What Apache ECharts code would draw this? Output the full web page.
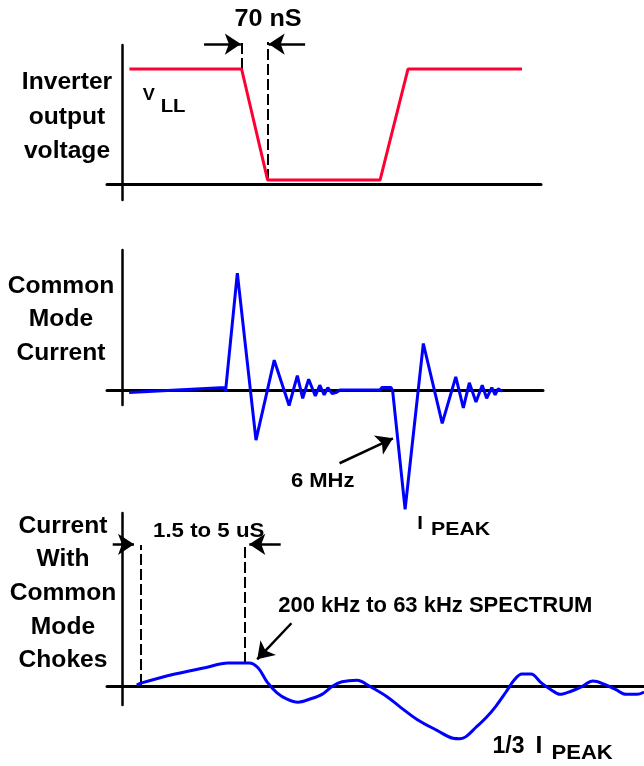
<!DOCTYPE html>
<html>
<head>
<meta charset="utf-8">
<script src="https://cdn.jsdelivr.net/npm/echarts@6/dist/echarts.min.js"></script>
<style>
  html, body { margin: 0; padding: 0; background: #ffffff; }
  #chart { width: 644px; height: 766px; }
</style>
</head>
<body>
<div id="chart"></div>
<script>
// ---- Inverter output voltage: time in ns, level as a fraction of V_LL ----
const voltageTime  = [20, 322, 392, 695, 770, 1077];
const voltageLevel = [1, 1, 0.04, 0.04, 1, 1];
const edgeGuideTime = [322, 392];           // the 70 nS switching edge

// ---- Common mode current: time in ns, current as a fraction of I_PEAK ----
const cmTime = [32, 464, 466, 519, 603, 685, 752, 789, 813, 840, 870, 890, 910, 926, 946, 966, 981,
                1161, 1169, 1211, 1218, 1274, 1356, 1441, 1502, 1536, 1563, 1593, 1621, 1641, 1664, 1679, 1693, 1711];
const cmCurrent = [-0.02, 0.02, -0.01, 0.98, -0.42, 0.25, -0.13, 0.12, -0.07, 0.09, -0.05, 0.04, -0.04, 0.02, -0.03, -0.02, 0,
                   0, 0.02, 0.02, -0.01, -1, 0.39, -0.28, 0.11, -0.15, 0.06, -0.10, 0.04, -0.07, 0.02, -0.04, 0.01, -0.01];

// ---- Current with common mode chokes: time in us, current as a fraction of I_PEAK ----
const chokeTime = [0.74, 0.9, 2.65, 4.15, 5.3, 6.35, 6.8, 7.25, 7.75, 8.25, 8.8, 9.4, 10.0, 10.5, 11.0, 11.75,
                   12.4, 13.25, 13.9, 14.75, 15.75, 16.55, 16.9, 17.2, 17.7, 18.2, 18.7, 19.2, 19.6, 20.0, 20.45,
                   20.95, 21.45, 21.9, 22.45, 23.0, 23.55, 24.1, 24.7, 25.2, 25.75, 26.1];
const chokeCurrent = [0.01, 0.02, 0.08, 0.12, 0.15, 0.15, 0.12, 0.03, -0.04, -0.08, -0.1, -0.08, -0.05, 0.0, 0.03, 0.04,
                      0.0, -0.065, -0.13, -0.21, -0.28, -0.33, -0.333, -0.32, -0.26, -0.2, -0.125, -0.035, 0.04, 0.08, 0.08,
                      0.025, -0.02, -0.05, -0.03, 0.0, 0.035, 0.015, -0.02, -0.05, -0.05, -0.035];
const riseGuideTime = [0.935, 6.15];        // the 1.5 to 5 uS rise interval

const zip = (xs, ys) => xs.map((x, i) => [x, ys[i]]);

const BLACK = '#000000';
const FONT = '"Liberation Sans", Arial, sans-serif';

function axisPair(i, xr, yr, xWidth, yWidth) {
  const common = {
    gridIndex: i, type: 'value',
    axisTick: { show: false }, axisLabel: { show: false }, splitLine: { show: false }
  };
  return {
    x: Object.assign({}, common, { min: xr[0], max: xr[1],
      axisLine: { show: true, onZero: true, lineStyle: { color: BLACK, width: xWidth } } }),
    y: Object.assign({}, common, { min: yr[0], max: yr[1],
      axisLine: { show: true, onZero: true, lineStyle: { color: BLACK, width: yWidth } } })
  };
}

const a0 = axisPair(0, [-40.4, 1128.2], [-0.134, 1.208], 3, 2.5);
const a1 = axisPair(1, [-67.5, 1894.5], [-0.1257, 1.1735], 3, 2.5);
const a2 = axisPair(2, [-0.75, 26.1], [-0.118, 1.108], 3, 2.5);

// dashed vertical guides, one series per panel
function guides(i, segs) {
  return {
    type: 'lines', coordinateSystem: 'cartesian2d', xAxisIndex: i, yAxisIndex: i,
    clip: false, silent: true, symbol: 'none',
    lineStyle: { color: BLACK, width: 2, type: [11, 4], opacity: 1 },
    data: segs.map(s => ({ coords: s }))
  };
}
// pointer arrows, tip at the second coordinate
function arrows(i, segs) {
  return {
    type: 'lines', coordinateSystem: 'cartesian2d', xAxisIndex: i, yAxisIndex: i,
    clip: false, silent: true, symbol: ['none', 'arrow'], symbolSize: 16,
    lineStyle: { color: BLACK, width: 2.5, opacity: 1 },
    data: segs.map(s => ({ coords: s }))
  };
}

function text(str, x, y, size, align, scaleX) {
  return {
    type: 'text', x: x, y: y, scaleX: scaleX || 1.07, silent: true,
    style: { text: str, font: 'bold ' + size + 'px ' + FONT, fill: BLACK, align: align || 'center', verticalAlign: 'middle' }
  };
}

const option = {
  backgroundColor: '#ffffff',
  animation: false,
  grid: [
    { left: 107, top: 45, width: 434, height: 155 },
    { left: 107, top: 250, width: 436, height: 155 },
    { left: 107, top: 513, width: 537, height: 192 }
  ],
  xAxis: [a0.x, a1.x, a2.x],
  yAxis: [a0.y, a1.y, a2.y],
  series: [
    {
      type: 'line', xAxisIndex: 0, yAxisIndex: 0, clip: false,
      data: zip(voltageTime, voltageLevel), showSymbol: false, silent: true,
      lineStyle: { color: '#ff0033', width: 3 }
    },
    guides(0, [
      [[edgeGuideTime[0], 1], [edgeGuideTime[0], 1.234]],
      [[edgeGuideTime[1], 0.04], [edgeGuideTime[1], 1.234]]
    ]),
    arrows(0, [
      [[221, 1.216], [320, 1.216]],
      [[493, 1.216], [395, 1.216]]
    ]),
    {
      type: 'line', xAxisIndex: 1, yAxisIndex: 1, clip: false,
      data: zip(cmTime, cmCurrent), showSymbol: false, silent: true,
      lineStyle: { color: '#0000ff', width: 3 }
    },
    arrows(1, [
      [[979, -0.614], [1219, -0.405]]
    ]),
    {
      type: 'line', xAxisIndex: 2, yAxisIndex: 2, clip: false,
      data: zip(chokeTime, chokeCurrent), showSymbol: false, silent: true, smooth: 0.35,
      lineStyle: { color: '#0000ff', width: 3 }
    },
    guides(2, [
      [[riseGuideTime[0], 0.01], [riseGuideTime[0], 0.904]],
      [[riseGuideTime[1], 0.15], [riseGuideTime[1], 0.904]]
    ]),
    arrows(2, [
      [[-0.465, 0.908], [0.6, 0.908]],
      [[7.935, 0.908], [6.365, 0.908]],
      [[8.47, 0.404], [6.76, 0.174]]
    ])
  ],
  graphic: [
    text('70 nS', 268, 19, 24, 'center', 1.05),
    text('Inverter', 67, 83, 23), text('output', 67, 118, 23), text('voltage', 67, 152, 23),
    text('V', 142.7, 95.5, 17, 'left'), text('LL', 160.7, 106.7, 19, 'left'),
    text('Common', 61, 287, 23), text('Mode', 61, 320, 23), text('Current', 61, 353.5, 23),
    text('6 MHz', 322.7, 481.5, 20, 'center', 1.1),
    text('I', 420, 523.4, 19, 'center'), text('PEAK', 431, 530, 19, 'left', 1.12),
    text('Current', 63, 526.7, 23), text('With', 63, 560, 23), text('Common', 63, 593.5, 23),
    text('Mode', 63, 627.5, 23), text('Chokes', 63, 660.7, 23),
    text('1.5 to 5 uS', 208.7, 530.8, 21, 'center', 1.06),
    text('200 kHz to 63 kHz SPECTRUM', 435.3, 605.5, 22, 'center', 1.0),
    text('1/3', 508.5, 746.7, 23, 'center', 1.0), text('I', 539, 746.7, 23, 'center'),
    text('PEAK', 551.5, 753.5, 21, 'left', 1.05)
  ]
};

const chart = echarts.init(document.getElementById('chart'), null, { renderer: 'canvas' });
chart.setOption(option);
</script>
</body>
</html>
